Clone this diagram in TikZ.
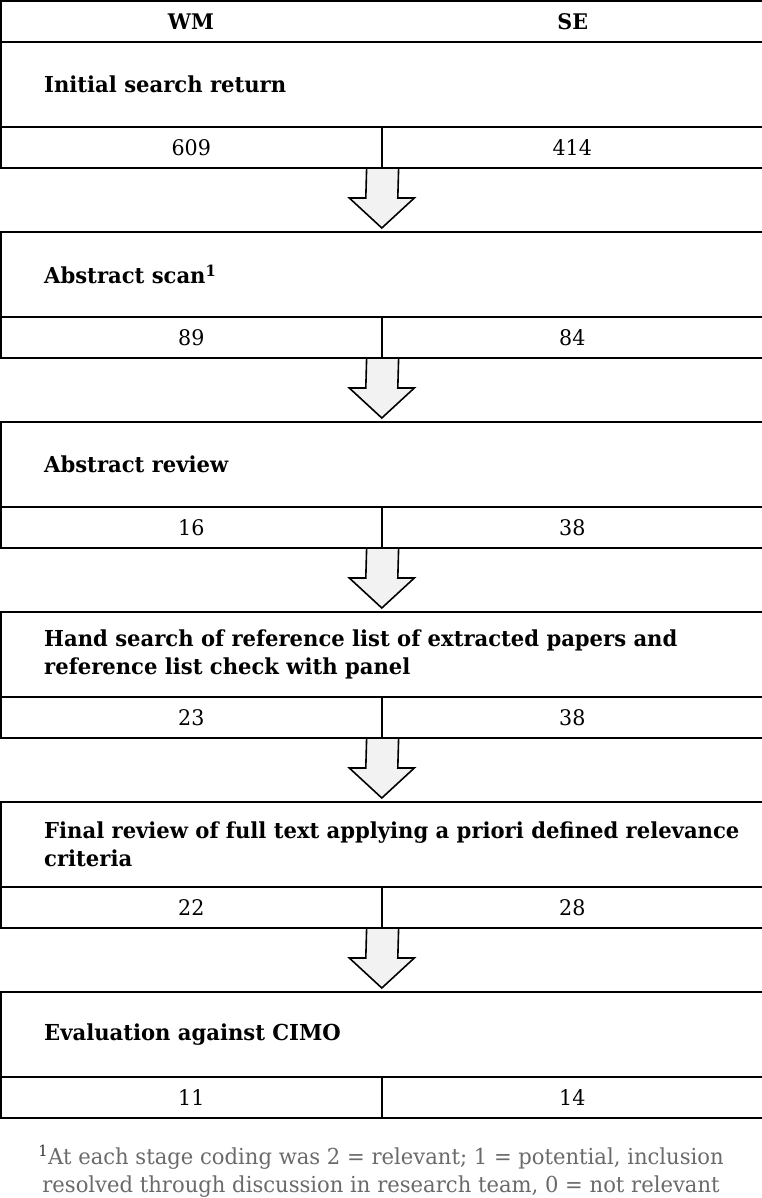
\documentclass[tikz,border=0pt]{standalone}
\usepackage{fontspec}
\setmainfont{DejaVu Serif}[FakeStretch=0.96]
\usetikzlibrary{calc,backgrounds}
\definecolor{arrowgray}{HTML}{F2F2F2}
\definecolor{notegray}{HTML}{6A6A6A}
\tikzset{
  frame/.style={draw=black, line width=1.6pt, inner sep=0pt, anchor=north west},
  titlebox/.style={frame, minimum width=762pt, minimum height=85pt},
  cell/.style={frame, minimum width=381pt, minimum height=41pt, font=\fontsize{21.5}{26}\selectfont},
  hdrtext/.style={inner sep=0pt, font=\fontsize{21.5}{26}\selectfont\bfseries},
  titletext/.style={anchor=west, align=left, inner sep=0pt, font=\fontsize{22}{28}\selectfont\bfseries},
  fatarrow/.style={draw=black, line width=1.6pt, fill=arrowgray, line join=miter},
  note/.style={align=center, inner sep=0pt, text=notegray, font=\fontsize{22}{28}\selectfont}
}
\newcommand{\fatarrowpath}[2]{%
  \draw[fatarrow] ($(#1)+(-16pt,0)$) -- ($(#2)+(-16pt,30pt)$) -- ($(#2)+(-32.5pt,30pt)$) -- (#2)
    -- ($(#2)+(32.5pt,30pt)$) -- ($(#2)+(16pt,30pt)$) -- ($(#1)+(16pt,0)$);}
\begin{document}
\begin{tikzpicture}[x=1pt,y=1pt]
\useasboundingbox (0,0) rectangle (762,-1198);
\node[frame, minimum width=762pt, minimum height=41pt] (hdr) at (0,0) {};
\node[hdrtext] (wm) at ($(hdr.west)!0.25!(hdr.east)$) {WM};
\node[hdrtext] (se) at ($(hdr.west)!0.75!(hdr.east)$) {SE};
\foreach \i/\ty/\txt/\a/\b in {
  1/41/{Initial search return}/609/414,
  2/231/{Abstract scan\textsuperscript{1}}/89/84,
  3/421/{Abstract review}/16/38,
  4/611/{Hand search of reference list of extracted papers and\\reference list check with panel}/23/38,
  5/801/{Final review of full text applying a priori defined relevance\\criteria}/22/28,
  6/991/{Evaluation against CIMO}/11/14}{
  \node[titlebox] (t\i) at (0,-\ty) {};
  \node[titletext] (tt\i) at ($(t\i.west)+(44pt,0)$) {\txt};
  \node[cell] (l\i) at (0,-\ty-85) {\a};
  \node[cell] (r\i) at (381,-\ty-85) {\b};
}
\begin{scope}[on background layer]
\foreach \i/\j in {1/2,2/3,3/4,4/5,5/6}{
  \coordinate (tip\i) at ($(t\j.north)+(0,3pt)$);
  \fatarrowpath{l\i.south east}{tip\i}
}
\end{scope}
\node[note] (fn) at (381,-1171) {\textcolor{black!80}{\textsuperscript{1}}At each stage coding was 2 = relevant; 1 = potential, inclusion\\resolved through discussion in research team, 0 = not relevant};
\end{tikzpicture}
\end{document}
